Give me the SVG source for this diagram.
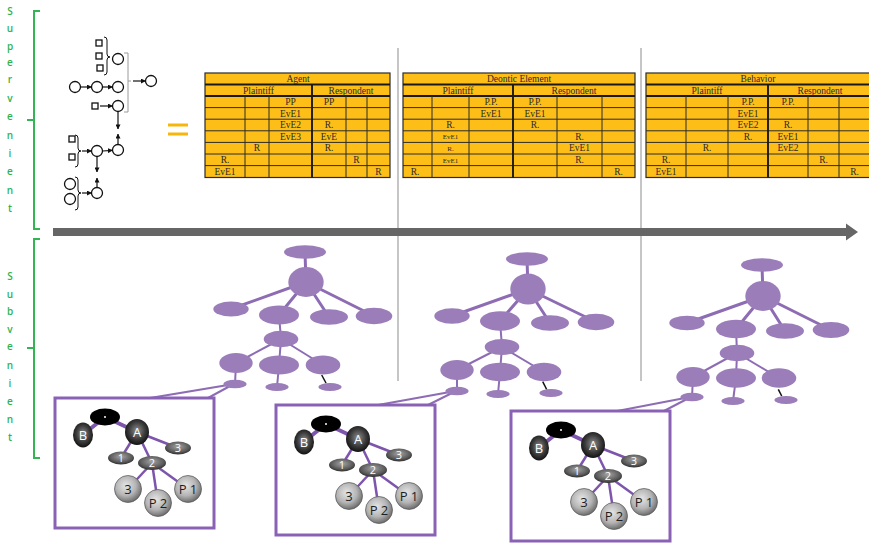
<svg xmlns="http://www.w3.org/2000/svg" width="869" height="543" viewBox="0 0 869 543">
  <defs>
    <style>
      .lbl { font-family: "Open Sans", "Liberation Sans", sans-serif; font-size: 10px; font-weight: 600; fill: #2fb34f; text-anchor: middle; }
      .brace { fill: none; stroke: #33b553; stroke-width: 2; }
      .sym { fill: #fff; stroke: #111; stroke-width: 1.3; }
      .sline { stroke: #111; stroke-width: 1.2; fill: none; }
      .cbr { fill: none; stroke: #111; stroke-width: 1; }
      .tbl { fill: #fdbf17; stroke: #2a2a2a; stroke-width: 1.2; }
      .tl { stroke: #2a2a2a; stroke-width: 1; }
      .tk { stroke: #1a1a1a; stroke-width: 1.9; }
      .tt { font-family: "Liberation Serif", "Times New Roman", serif; font-size: 9.5px; fill: #2a2a2a; text-anchor: middle; }
      .ts { font-family: "Liberation Serif", "Times New Roman", serif; font-size: 7px; fill: #2a2a2a; text-anchor: middle; }
      .sep { stroke: #8c8c8c; stroke-width: 1; }
      .pn { fill: #9b7db9; }
      .pe { stroke: #8d6cb4; stroke-width: 3; stroke-linecap: round; }
      .pe2 { stroke: #8d6cb4; stroke-width: 2; }
      .bk { stroke: #111; stroke-width: 1.5; }
      .box { fill: #fff; stroke: #8a62b5; stroke-width: 3; }
      .be { stroke: #7d55ad; stroke-width: 2.5; }
      .bet { stroke: #7d55ad; stroke-width: 4; }
      .dk { fill: url(#gDark); }
      .md { fill: url(#gMid); }
      .lt { fill: url(#gLight); stroke: #555; stroke-width: 0.7; }
      .wt { font-family: "Open Sans", "Liberation Sans", sans-serif; fill: #fff; text-anchor: middle; }
      .dt { font-family: "Open Sans", "Liberation Sans", sans-serif; fill: #1e1e1e; text-anchor: middle; font-size: 13px; }
    </style>
    <marker id="ah" viewBox="0 0 6 6" refX="5.5" refY="3" markerWidth="5" markerHeight="5" markerUnits="userSpaceOnUse" orient="auto">
      <path d="M0,0 L6,3 L0,6 Z" fill="#111"/>
    </marker>
    <radialGradient id="gDark" cx="50%" cy="45%" r="55%">
      <stop offset="0" stop-color="#8e8e8e"/>
      <stop offset="0.6" stop-color="#3c3c3c"/>
      <stop offset="1" stop-color="#121212"/>
    </radialGradient>
    <radialGradient id="gMid" cx="50%" cy="40%" r="60%">
      <stop offset="0" stop-color="#a4a4a4"/>
      <stop offset="0.7" stop-color="#5a5a5a"/>
      <stop offset="1" stop-color="#2e2e2e"/>
    </radialGradient>
    <radialGradient id="gLight" cx="42%" cy="38%" r="62%">
      <stop offset="0" stop-color="#e6e6e6"/>
      <stop offset="0.6" stop-color="#b4b4b4"/>
      <stop offset="1" stop-color="#6e6e6e"/>
    </radialGradient>
  </defs>

  <rect width="869" height="543" fill="#fff"/>

  <!-- level braces and labels -->
  <g id="supervenient">
    <path class="brace" d="M40,11 L34,11 L34,229 L40,229 M34,120 L27,120"/>
    <text class="lbl" x="10" y="15">S</text>
    <text class="lbl" x="10" y="32">u</text>
    <text class="lbl" x="10" y="50">p</text>
    <text class="lbl" x="10" y="66">e</text>
    <text class="lbl" x="10" y="83">r</text>
    <text class="lbl" x="10" y="102">v</text>
    <text class="lbl" x="10" y="120">e</text>
    <text class="lbl" x="10" y="139">n</text>
    <text class="lbl" x="10" y="157">i</text>
    <text class="lbl" x="10" y="175">e</text>
    <text class="lbl" x="10" y="194">n</text>
    <text class="lbl" x="10" y="212">t</text>
  </g>
  <g id="subvenient">
    <path class="brace" d="M40,239 L34,239 L34,458 L40,458 M34,348 L27,348"/>
    <text class="lbl" x="10" y="280">S</text>
    <text class="lbl" x="10" y="298">u</text>
    <text class="lbl" x="10" y="315">b</text>
    <text class="lbl" x="10" y="333">v</text>
    <text class="lbl" x="10" y="350">e</text>
    <text class="lbl" x="10" y="369">n</text>
    <text class="lbl" x="10" y="387">i</text>
    <text class="lbl" x="10" y="405">e</text>
    <text class="lbl" x="10" y="423">n</text>
    <text class="lbl" x="10" y="441">t</text>
  </g>

  <!-- symbolic structure -->
  <g id="symbolic">
    <rect class="sym" x="96" y="40" width="6" height="6"/>
    <rect class="sym" x="96" y="53" width="6" height="6"/>
    <rect class="sym" x="97" y="65" width="6" height="6"/>
    <path class="cbr" d="M104,37 Q107,37 107,40 L107,54 Q107,57 110,57 Q107,57 107,60 L107,72 Q107,75 104,75"/>
    <circle class="sym" cx="118" cy="59" r="5.5"/>
    <circle class="sym" cx="75" cy="87" r="5.5"/>
    <circle class="sym" cx="97" cy="87" r="5.5"/>
    <circle class="sym" cx="118" cy="87" r="5.5"/>
    <line class="sline" x1="80.5" y1="87" x2="91.5" y2="87" marker-end="url(#ah)"/>
    <line class="sline" x1="102.5" y1="87" x2="112.5" y2="87" marker-end="url(#ah)"/>
    <rect class="sym" x="92" y="103" width="6" height="6"/>
    <line class="sline" x1="100" y1="106" x2="112.5" y2="106" marker-end="url(#ah)"/>
    <circle class="sym" cx="118" cy="106" r="5.5"/>
    <path d="M124,53 L128,53 L128,112 L124,112 M128,81 L131,81" fill="none" stroke="#9a9a9a" stroke-width="1"/>
    <line class="sline" x1="133" y1="81" x2="145.5" y2="81" marker-end="url(#ah)"/>
    <circle class="sym" cx="151" cy="81" r="5.5"/>
    <line class="sline" x1="118" y1="112" x2="118" y2="129" marker-end="url(#ah)"/>
    <line class="sline" x1="118" y1="144.5" x2="118" y2="134" marker-end="url(#ah)"/>
    <circle class="sym" cx="118" cy="150" r="5.5"/>
    <rect class="sym" x="69" y="136" width="6" height="6"/>
    <rect class="sym" x="69" y="154" width="6" height="6"/>
    <path class="cbr" d="M75,135 Q78,135 78,138 L78,148 Q78,151 81,151 Q78,151 78,154 L78,164 Q78,167 75,167"/>
    <line class="sline" x1="82" y1="151" x2="91.5" y2="151" marker-end="url(#ah)"/>
    <circle class="sym" cx="97" cy="151" r="5.5"/>
    <line class="sline" x1="102.5" y1="151" x2="112.5" y2="150.3" marker-end="url(#ah)"/>
    <line class="sline" x1="97" y1="156.5" x2="97" y2="172" marker-end="url(#ah)"/>
    <line class="sline" x1="97" y1="187.5" x2="97" y2="178" marker-end="url(#ah)"/>
    <circle class="sym" cx="97" cy="193" r="5.5"/>
    <circle class="sym" cx="70" cy="184" r="5.5"/>
    <circle class="sym" cx="70" cy="199" r="5.5"/>
    <path class="cbr" d="M75,177 Q78,177 78,180 L78,190 Q78,193 81,193 Q78,193 78,196 L78,207 Q78,210 75,210"/>
    <line class="sline" x1="82" y1="193" x2="91.5" y2="193" marker-end="url(#ah)"/>
  </g>

  <!-- equals sign -->
  <g id="equals" stroke="#f6b60a" stroke-width="3">
    <line x1="168" y1="125" x2="188" y2="125"/>
    <line x1="168" y1="134" x2="188" y2="134"/>
  </g>

  <!-- separators -->
  <line class="sep" x1="398" y1="48" x2="398" y2="381"/>
  <line class="sep" x1="641" y1="48" x2="641" y2="381"/>

  <!-- Agent table -->
  <g id="table-agent">
    <rect class="tbl" x="205" y="73" width="185" height="104.5"/>
    <line class="tk" x1="205" y1="84.5" x2="390" y2="84.5"/>
    <line class="tk" x1="205" y1="96" x2="390" y2="96"/>
    <line class="tl" x1="205" y1="107.6" x2="390" y2="107.6"/>
    <line class="tl" x1="205" y1="119.2" x2="390" y2="119.2"/>
    <line class="tl" x1="205" y1="130.8" x2="390" y2="130.8"/>
    <line class="tl" x1="205" y1="142.4" x2="390" y2="142.4"/>
    <line class="tl" x1="205" y1="154" x2="390" y2="154"/>
    <line class="tl" x1="205" y1="165.6" x2="390" y2="165.6"/>
    <line class="tl" x1="245" y1="96" x2="245" y2="177.5"/>
    <line class="tl" x1="269" y1="96" x2="269" y2="177.5"/>
    <line class="tk" x1="312" y1="84.5" x2="312" y2="177.5"/>
    <line class="tl" x1="346" y1="96" x2="346" y2="177.5"/>
    <line class="tl" x1="367" y1="96" x2="367" y2="177.5"/>
    <text class="tt" x="298" y="82">Agent</text>
    <text class="tt" x="258.5" y="93.5">Plaintiff</text>
    <text class="tt" x="351" y="93.5">Respondent</text>
    <text class="tt" x="290.5" y="105">PP</text>
    <text class="tt" x="329" y="105">PP</text>
    <text class="tt" x="290.5" y="116.6">EvE1</text>
    <text class="tt" x="290.5" y="128.2">EvE2</text>
    <text class="tt" x="329" y="128.2">R.</text>
    <text class="tt" x="290.5" y="139.8">EvE3</text>
    <text class="tt" x="329" y="139.8">EvE</text>
    <text class="tt" x="257" y="151.4">R</text>
    <text class="tt" x="329" y="151.4">R.</text>
    <text class="tt" x="225" y="163">R.</text>
    <text class="tt" x="356.5" y="163">R</text>
    <text class="tt" x="225" y="174.6">EvE1</text>
    <text class="tt" x="378.5" y="174.6">R</text>
  </g>

  <!-- Deontic Element table -->
  <g id="table-deontic">
    <rect class="tbl" x="403" y="73" width="232" height="104.5"/>
    <line class="tk" x1="403" y1="84.5" x2="635" y2="84.5"/>
    <line class="tk" x1="403" y1="96" x2="635" y2="96"/>
    <line class="tl" x1="403" y1="107.6" x2="635" y2="107.6"/>
    <line class="tl" x1="403" y1="119.2" x2="635" y2="119.2"/>
    <line class="tl" x1="403" y1="130.8" x2="635" y2="130.8"/>
    <line class="tl" x1="403" y1="142.4" x2="635" y2="142.4"/>
    <line class="tl" x1="403" y1="154" x2="635" y2="154"/>
    <line class="tl" x1="403" y1="165.6" x2="635" y2="165.6"/>
    <line class="tl" x1="432" y1="96" x2="432" y2="177.5"/>
    <line class="tl" x1="469" y1="96" x2="469" y2="177.5"/>
    <line class="tk" x1="513" y1="84.5" x2="513" y2="177.5"/>
    <line class="tl" x1="557" y1="96" x2="557" y2="177.5"/>
    <line class="tl" x1="602" y1="96" x2="602" y2="177.5"/>
    <text class="tt" x="519" y="82">Deontic Element</text>
    <text class="tt" x="458" y="93.5">Plaintiff</text>
    <text class="tt" x="574" y="93.5">Respondent</text>
    <text class="tt" x="491" y="105">P.P.</text>
    <text class="tt" x="535" y="105">P.P.</text>
    <text class="tt" x="491" y="116.6">EvE1</text>
    <text class="tt" x="535" y="116.6">EvE1</text>
    <text class="tt" x="450.5" y="128.2">R.</text>
    <text class="tt" x="535" y="128.2">R.</text>
    <text class="ts" x="450.5" y="139.3">EvE1</text>
    <text class="tt" x="579.5" y="139.8">R.</text>
    <text class="ts" x="450.5" y="150.9">R.</text>
    <text class="tt" x="579.5" y="151.4">EvE1</text>
    <text class="ts" x="450.5" y="162.5">EvE1</text>
    <text class="tt" x="579.5" y="163">R.</text>
    <text class="tt" x="415" y="174.6">R.</text>
    <text class="tt" x="618.5" y="174.6">R.</text>
  </g>

  <!-- Behavior table -->
  <g id="table-behavior">
    <rect class="tbl" x="646" y="73" width="226" height="104.5"/>
    <line class="tk" x1="646" y1="84.5" x2="872" y2="84.5"/>
    <line class="tk" x1="646" y1="96" x2="872" y2="96"/>
    <line class="tl" x1="646" y1="107.6" x2="872" y2="107.6"/>
    <line class="tl" x1="646" y1="119.2" x2="872" y2="119.2"/>
    <line class="tl" x1="646" y1="130.8" x2="872" y2="130.8"/>
    <line class="tl" x1="646" y1="142.4" x2="872" y2="142.4"/>
    <line class="tl" x1="646" y1="154" x2="872" y2="154"/>
    <line class="tl" x1="646" y1="165.6" x2="872" y2="165.6"/>
    <line class="tl" x1="686" y1="96" x2="686" y2="177.5"/>
    <line class="tl" x1="728" y1="96" x2="728" y2="177.5"/>
    <line class="tk" x1="768" y1="84.5" x2="768" y2="177.5"/>
    <line class="tl" x1="808" y1="96" x2="808" y2="177.5"/>
    <line class="tl" x1="839" y1="96" x2="839" y2="177.5"/>
    <text class="tt" x="758" y="82">Behavior</text>
    <text class="tt" x="707" y="93.5">Plaintiff</text>
    <text class="tt" x="820" y="93.5">Respondent</text>
    <text class="tt" x="748" y="105">P.P.</text>
    <text class="tt" x="788" y="105">P.P.</text>
    <text class="tt" x="748" y="116.6">EvE1</text>
    <text class="tt" x="748" y="128.2">EvE2</text>
    <text class="tt" x="788" y="128.2">R.</text>
    <text class="tt" x="748" y="139.8">R.</text>
    <text class="tt" x="788" y="139.8">EvE1</text>
    <text class="tt" x="707" y="151.4">R.</text>
    <text class="tt" x="788" y="151.4">EvE2</text>
    <text class="tt" x="666" y="163">R.</text>
    <text class="tt" x="823.5" y="163">R.</text>
    <text class="tt" x="666" y="174.6">EvE1</text>
    <text class="tt" x="854.5" y="174.6">R.</text>
  </g>

  <!-- time arrow -->
  <path id="time-arrow" d="M53,228 L846,228 L846,223.5 L858,232 L846,240.5 L846,236 L53,236 Z" fill="#666"/>

  <!-- connectors of the purple trees -->
  <g id="connectors">
    <line class="pe" x1="305" y1="252" x2="306" y2="282"/>
    <line class="pe" x1="306" y1="282" x2="231" y2="309"/>
    <line class="pe" x1="306" y1="282" x2="279" y2="315"/>
    <line class="pe" x1="306" y1="282" x2="329" y2="317"/>
    <line class="pe" x1="306" y1="282" x2="374" y2="316"/>
    <line class="pe2" x1="279" y1="315" x2="281" y2="339"/>
    <line class="pe2" x1="281" y1="339" x2="236" y2="363"/>
    <line class="pe2" x1="281" y1="339" x2="279" y2="365"/>
    <line class="pe2" x1="281" y1="339" x2="323" y2="365"/>
    <line class="pe2" x1="236" y1="363" x2="235" y2="384"/>
    <line class="pe2" x1="279" y1="365" x2="277" y2="387"/>
    <line class="bk" x1="321.7" y1="375" x2="326" y2="383"/>
    <line class="pe2" x1="228" y1="385" x2="150" y2="398"/>
    <line class="pe2" x1="230" y1="386" x2="208" y2="398"/>

    <line class="pe" x1="527" y1="259" x2="528" y2="289"/>
    <line class="pe" x1="528" y1="289" x2="452" y2="316"/>
    <line class="pe" x1="528" y1="289" x2="500" y2="321"/>
    <line class="pe" x1="528" y1="289" x2="550" y2="323"/>
    <line class="pe" x1="528" y1="289" x2="596" y2="322"/>
    <line class="pe2" x1="500" y1="321" x2="502" y2="347"/>
    <line class="pe2" x1="502" y1="347" x2="457" y2="370"/>
    <line class="pe2" x1="502" y1="347" x2="500" y2="372"/>
    <line class="pe2" x1="502" y1="347" x2="544" y2="372"/>
    <line class="pe2" x1="457" y1="370" x2="457" y2="391"/>
    <line class="pe2" x1="500" y1="372" x2="498" y2="394"/>
    <line class="bk" x1="542.7" y1="381.7" x2="546.7" y2="389.5"/>
    <line class="pe2" x1="450" y1="392" x2="378" y2="405"/>
    <line class="pe2" x1="452" y1="393" x2="428" y2="405"/>

    <line class="pe" x1="762" y1="265" x2="763" y2="296"/>
    <line class="pe" x1="763" y1="296" x2="687" y2="323"/>
    <line class="pe" x1="763" y1="296" x2="736" y2="329"/>
    <line class="pe" x1="763" y1="296" x2="785" y2="331"/>
    <line class="pe" x1="763" y1="296" x2="831" y2="330"/>
    <line class="pe2" x1="736" y1="329" x2="737" y2="353"/>
    <line class="pe2" x1="737" y1="353" x2="693" y2="377"/>
    <line class="pe2" x1="737" y1="353" x2="736" y2="378"/>
    <line class="pe2" x1="737" y1="353" x2="779" y2="378"/>
    <line class="pe2" x1="693" y1="377" x2="692" y2="397"/>
    <line class="pe2" x1="736" y1="378" x2="733" y2="401"/>
    <line class="bk" x1="778.3" y1="389.3" x2="781.7" y2="396"/>
    <line class="pe2" x1="685" y1="398" x2="612" y2="412"/>
    <line class="pe2" x1="687" y1="399" x2="662" y2="412"/>
  </g>

  <!-- purple trees -->
  <g id="tree-1" class="pn">
    <ellipse id="t1-top" cx="305" cy="252" rx="21" ry="6.7"/>
    <ellipse id="t1-root" cx="306" cy="282" rx="17.7" ry="15"/>
    <ellipse id="t1-a" cx="231" cy="309" rx="17.7" ry="7.5"/>
    <ellipse id="t1-b" cx="279" cy="315" rx="20" ry="9.5"/>
    <ellipse id="t1-c" cx="329" cy="317" rx="19" ry="7.7"/>
    <ellipse id="t1-d" cx="374" cy="316" rx="18.3" ry="8.3"/>
    <ellipse id="t1-e" cx="281" cy="339" rx="17.3" ry="8.3"/>
    <ellipse id="t1-f" cx="236" cy="363" rx="16.7" ry="10"/>
    <ellipse id="t1-g" cx="279" cy="365" rx="20" ry="9.5"/>
    <ellipse id="t1-h" cx="323" cy="365" rx="17.3" ry="9.5"/>
    <ellipse id="t1-i" cx="235" cy="384" rx="11.7" ry="4.3"/>
    <ellipse id="t1-j" cx="277" cy="387" rx="11.7" ry="4"/>
    <ellipse id="t1-k" cx="330" cy="387" rx="11.7" ry="4"/>
  </g>
  <g id="tree-2" class="pn">
    <ellipse id="t2-top" cx="527" cy="259" rx="21" ry="6.7"/>
    <ellipse id="t2-root" cx="528" cy="289" rx="17.7" ry="15.5"/>
    <ellipse id="t2-a" cx="452" cy="316" rx="17.7" ry="7.7"/>
    <ellipse id="t2-b" cx="500" cy="321" rx="20" ry="9.7"/>
    <ellipse id="t2-c" cx="550" cy="323" rx="19" ry="7.7"/>
    <ellipse id="t2-d" cx="596" cy="322" rx="18.3" ry="8.3"/>
    <ellipse id="t2-e" cx="502" cy="347" rx="17.3" ry="8"/>
    <ellipse id="t2-f" cx="457" cy="370" rx="16.7" ry="10"/>
    <ellipse id="t2-g" cx="500" cy="372" rx="20" ry="9.3"/>
    <ellipse id="t2-h" cx="544" cy="372" rx="17.3" ry="9.3"/>
    <ellipse id="t2-i" cx="457" cy="391" rx="11.7" ry="4.3"/>
    <ellipse id="t2-j" cx="498" cy="394" rx="11.7" ry="4"/>
    <ellipse id="t2-k" cx="551" cy="393" rx="11.7" ry="4"/>
  </g>
  <g id="tree-3" class="pn">
    <ellipse id="t3-top" cx="762" cy="265" rx="21" ry="6.7"/>
    <ellipse id="t3-root" cx="763" cy="296" rx="17.7" ry="15"/>
    <ellipse id="t3-a" cx="687" cy="323" rx="17.7" ry="7.3"/>
    <ellipse id="t3-b" cx="736" cy="329" rx="20" ry="9.3"/>
    <ellipse id="t3-c" cx="785" cy="331" rx="19" ry="7.7"/>
    <ellipse id="t3-d" cx="831" cy="330" rx="18.3" ry="8"/>
    <ellipse id="t3-e" cx="737" cy="353" rx="17.3" ry="8.3"/>
    <ellipse id="t3-f" cx="693" cy="377" rx="16.7" ry="10"/>
    <ellipse id="t3-g" cx="736" cy="378" rx="20" ry="9.7"/>
    <ellipse id="t3-h" cx="779" cy="378" rx="17.3" ry="9.7"/>
    <ellipse id="t3-i" cx="692" cy="397" rx="11.7" ry="4.3"/>
    <ellipse id="t3-j" cx="733" cy="401" rx="11.7" ry="4"/>
    <ellipse id="t3-k" cx="786" cy="400" rx="11.7" ry="4"/>
  </g>

  <!-- detail boxes -->
  <g id="box-1">
    <rect class="box" x="55" y="398" width="159" height="130"/>
    <g>
      <line class="bet" x1="105" y1="417" x2="85" y2="433"/>
      <line class="bet" x1="105" y1="417" x2="135" y2="431"/>
      <line class="be" x1="137" y1="432" x2="178" y2="448"/>
      <line class="be" x1="137" y1="432" x2="121" y2="458"/>
      <line class="be" x1="137" y1="432" x2="152" y2="463"/>
      <line class="be" x1="152" y1="463" x2="128" y2="489"/>
      <line class="be" x1="152" y1="463" x2="158" y2="503"/>
      <line class="be" x1="152" y1="463" x2="188" y2="489"/>
    </g>
    <ellipse cx="105" cy="417" rx="15" ry="8.5" fill="#000"/>
    <circle cx="105" cy="417" r="1" fill="#fff"/>
    <g id="b1-B"><ellipse class="dk" cx="83" cy="435" rx="10" ry="12.5"/><text class="wt" x="83" y="440" font-size="13">B</text></g>
    <g id="b1-A"><ellipse class="dk" cx="137" cy="432" rx="12" ry="13"/><text class="wt" x="137" y="437" font-size="13">A</text></g>
    <g id="b1-3"><ellipse class="md" cx="178" cy="448" rx="13" ry="6.5"/><text class="wt" x="178" y="452" font-size="11">3</text></g>
    <g id="b1-1"><ellipse class="md" cx="121" cy="458" rx="13" ry="6.5"/><text class="wt" x="121" y="462" font-size="11">1</text></g>
    <g id="b1-2"><ellipse class="md" cx="152" cy="463" rx="14" ry="7"/><text class="wt" x="152" y="467" font-size="11">2</text></g>
    <g id="b1-3s"><circle class="lt" cx="128" cy="489" r="13.5"/><text class="dt" x="128" y="493.5">3</text></g>
    <g id="b1-P2"><circle class="lt" cx="158" cy="503" r="13.5"/><text class="dt" x="158" y="507.5">P 2</text></g>
    <g id="b1-P1"><circle class="lt" cx="188" cy="489" r="13.5"/><text class="dt" x="188" y="493.5">P 1</text></g>
  </g>

  <g id="box-2" transform="translate(221,7)">
    <rect class="box" x="55" y="398" width="159" height="130"/>
    <g>
      <line class="bet" x1="105" y1="417" x2="85" y2="433"/>
      <line class="bet" x1="105" y1="417" x2="135" y2="431"/>
      <line class="be" x1="137" y1="432" x2="178" y2="448"/>
      <line class="be" x1="137" y1="432" x2="121" y2="458"/>
      <line class="be" x1="137" y1="432" x2="152" y2="463"/>
      <line class="be" x1="152" y1="463" x2="128" y2="489"/>
      <line class="be" x1="152" y1="463" x2="158" y2="503"/>
      <line class="be" x1="152" y1="463" x2="188" y2="489"/>
    </g>
    <ellipse cx="105" cy="417" rx="15" ry="8.5" fill="#000"/>
    <circle cx="105" cy="417" r="1" fill="#fff"/>
    <g id="b2-B"><ellipse class="dk" cx="83" cy="435" rx="10" ry="12.5"/><text class="wt" x="83" y="440" font-size="13">B</text></g>
    <g id="b2-A"><ellipse class="dk" cx="137" cy="432" rx="12" ry="13"/><text class="wt" x="137" y="437" font-size="13">A</text></g>
    <g id="b2-3"><ellipse class="md" cx="178" cy="448" rx="13" ry="6.5"/><text class="wt" x="178" y="452" font-size="11">3</text></g>
    <g id="b2-1"><ellipse class="md" cx="121" cy="458" rx="13" ry="6.5"/><text class="wt" x="121" y="462" font-size="11">1</text></g>
    <g id="b2-2"><ellipse class="md" cx="152" cy="463" rx="14" ry="7"/><text class="wt" x="152" y="467" font-size="11">2</text></g>
    <g id="b2-3s"><circle class="lt" cx="128" cy="489" r="13.5"/><text class="dt" x="128" y="493.5">3</text></g>
    <g id="b2-P2"><circle class="lt" cx="158" cy="503" r="13.5"/><text class="dt" x="158" y="507.5">P 2</text></g>
    <g id="b2-P1"><circle class="lt" cx="188" cy="489" r="13.5"/><text class="dt" x="188" y="493.5">P 1</text></g>
  </g>

  <g id="box-3" transform="translate(456,13)">
    <rect class="box" x="55" y="398" width="159" height="130"/>
    <g>
      <line class="bet" x1="105" y1="417" x2="85" y2="433"/>
      <line class="bet" x1="105" y1="417" x2="135" y2="431"/>
      <line class="be" x1="137" y1="432" x2="178" y2="448"/>
      <line class="be" x1="137" y1="432" x2="121" y2="458"/>
      <line class="be" x1="137" y1="432" x2="152" y2="463"/>
      <line class="be" x1="152" y1="463" x2="128" y2="489"/>
      <line class="be" x1="152" y1="463" x2="158" y2="503"/>
      <line class="be" x1="152" y1="463" x2="188" y2="489"/>
    </g>
    <ellipse cx="105" cy="417" rx="15" ry="8.5" fill="#000"/>
    <circle cx="105" cy="417" r="1" fill="#fff"/>
    <g id="b3-B"><ellipse class="dk" cx="83" cy="435" rx="10" ry="12.5"/><text class="wt" x="83" y="440" font-size="13">B</text></g>
    <g id="b3-A"><ellipse class="dk" cx="137" cy="432" rx="12" ry="13"/><text class="wt" x="137" y="437" font-size="13">A</text></g>
    <g id="b3-3"><ellipse class="md" cx="178" cy="448" rx="13" ry="6.5"/><text class="wt" x="178" y="452" font-size="11">3</text></g>
    <g id="b3-1"><ellipse class="md" cx="121" cy="458" rx="13" ry="6.5"/><text class="wt" x="121" y="462" font-size="11">1</text></g>
    <g id="b3-2"><ellipse class="md" cx="152" cy="463" rx="14" ry="7"/><text class="wt" x="152" y="467" font-size="11">2</text></g>
    <g id="b3-3s"><circle class="lt" cx="128" cy="489" r="13.5"/><text class="dt" x="128" y="493.5">3</text></g>
    <g id="b3-P2"><circle class="lt" cx="158" cy="503" r="13.5"/><text class="dt" x="158" y="507.5">P 2</text></g>
    <g id="b3-P1"><circle class="lt" cx="188" cy="489" r="13.5"/><text class="dt" x="188" y="493.5">P 1</text></g>
  </g>
</svg>
